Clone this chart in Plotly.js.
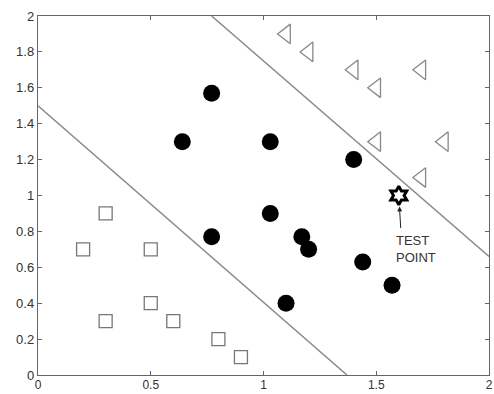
<!DOCTYPE html>
<html>
<head>
<meta charset="utf-8">
<script src="https://cdn.plot.ly/plotly-3.0.1.min.js"></script>
<style>html,body{margin:0;padding:0;background:#fff;}#chart{width:494px;height:394px;}</style>
</head>
<body>
<div id="chart"></div>
<script>
// Class A: open squares
const squaresX = [0.2, 0.3, 0.3, 0.5, 0.5, 0.6, 0.8, 0.9];
const squaresY = [0.7, 0.9, 0.3, 0.7, 0.4, 0.3, 0.2, 0.1];
// Class B: filled circles
const circlesX = [0.64, 0.77, 0.77, 1.03, 1.03, 1.17, 1.2, 1.1, 1.4, 1.44, 1.57];
const circlesY = [1.3, 1.57, 0.77, 1.3, 0.9, 0.77, 0.7, 0.4, 1.2, 0.63, 0.5];
// Class C: open left triangles
const trianglesX = [1.1, 1.2, 1.4, 1.5, 1.7, 1.5, 1.8, 1.7];
const trianglesY = [1.9, 1.8, 1.7, 1.6, 1.7, 1.3, 1.3, 1.1];
// Test point
const testX = [1.6];
const testY = [1.0];
// Decision boundaries
const lowerLineX = [0, 1.37];
const lowerLineY = [1.5, 0];
const upperLineX = [0.77, 2];
const upperLineY = [2, 0.66];
const xTicks = [0, 0.5, 1, 1.5, 2];
const yTicks = [0, 0.2, 0.4, 0.6, 0.8, 1, 1.2, 1.4, 1.6, 1.8, 2];

const gray = '#8a8a8a';
const traces = [
  {x: lowerLineX, y: lowerLineY, mode: 'lines', line: {color: gray, width: 1.5}, hoverinfo: 'skip'},
  {x: upperLineX, y: upperLineY, mode: 'lines', line: {color: gray, width: 1.5}, hoverinfo: 'skip'},
  {x: squaresX, y: squaresY, mode: 'markers', marker: {symbol: 'square-open', size: 13, color: '#777', line: {width: 1.3}}},
  {x: circlesX, y: circlesY, mode: 'markers', marker: {symbol: 'circle', size: 17, color: '#000'}},
  {x: trianglesX, y: trianglesY, mode: 'markers', marker: {symbol: 'triangle-left-open', size: 17, color: '#888', line: {width: 1.3}}},
  {x: testX, y: testY, mode: 'markers', marker: {symbol: 'hexagram-open', size: 14, color: '#000', line: {width: 3}}}
];

const axisCommon = {
  showgrid: false, zeroline: false, showline: true, linecolor: '#666', linewidth: 1.2,
  mirror: 'ticks', ticks: 'inside', ticklen: 4, tickcolor: '#666', ticklabeloverflow: 'allow',
  tickfont: {family: 'Liberation Sans, Arial, sans-serif', size: 13, color: '#333'}
};

const layout = {
  width: 494, height: 394,
  margin: {l: 38, r: 5, t: 16, b: 19},
  showlegend: false,
  plot_bgcolor: '#fff', paper_bgcolor: '#fff',
  xaxis: Object.assign({}, axisCommon, {range: [0, 2], tickvals: xTicks, ticktext: ['0','0.5','1','1.5','2'],
    ticklabelstandoff: -2, tickfont: {family: 'Liberation Sans, Arial, sans-serif', size: 12, color: '#333'}}),
  yaxis: Object.assign({}, axisCommon, {range: [0, 2], tickvals: yTicks, ticktext: ['0','0.2','0.4','0.6','0.8','1','1.2','1.4','1.6','1.8','2']}),
  annotations: [
    {x: testX[0], y: testY[0], xref: 'x', yref: 'y', text: '', showarrow: true, ax: 2, ay: 34,
     arrowhead: 2, arrowsize: 1, arrowwidth: 1, arrowcolor: '#222', standoff: 11},
    {x: testX[0], y: testY[0], xref: 'x', yref: 'y', text: 'TEST<br>POINT', showarrow: false,
     xshift: 17, yshift: -53, align: 'left',
     font: {family: 'Liberation Sans, Arial, sans-serif', size: 13, color: '#333'}}
  ]
};

Plotly.newPlot('chart', traces, layout, {displayModeBar: false, staticPlot: true});
</script>
</body>
</html>
